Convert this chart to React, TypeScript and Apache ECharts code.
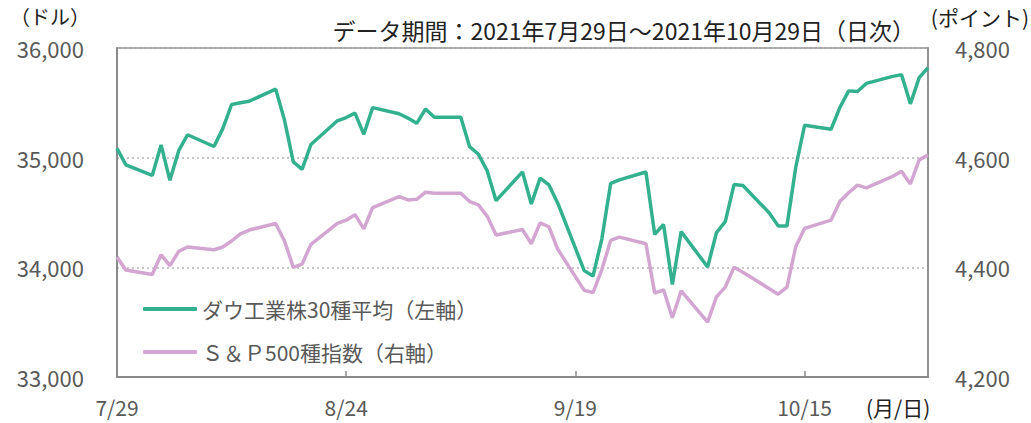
import React, { useEffect, useRef } from "react";
import * as echarts from "echarts";

const startDate = "2021-07-29";
const dates = [
  "2021-07-29", "2021-07-30",
  "2021-08-02", "2021-08-03", "2021-08-04", "2021-08-05", "2021-08-06",
  "2021-08-09", "2021-08-10", "2021-08-11", "2021-08-12", "2021-08-13",
  "2021-08-16", "2021-08-17", "2021-08-18", "2021-08-19", "2021-08-20",
  "2021-08-23", "2021-08-24", "2021-08-25", "2021-08-26", "2021-08-27",
  "2021-08-30", "2021-08-31", "2021-09-01", "2021-09-02", "2021-09-03",
  "2021-09-06", "2021-09-07", "2021-09-08", "2021-09-09", "2021-09-10",
  "2021-09-13", "2021-09-14", "2021-09-15", "2021-09-16", "2021-09-17",
  "2021-09-20", "2021-09-21", "2021-09-22", "2021-09-23", "2021-09-24",
  "2021-09-27", "2021-09-28", "2021-09-29", "2021-09-30", "2021-10-01",
  "2021-10-04", "2021-10-05", "2021-10-06", "2021-10-07", "2021-10-08",
  "2021-10-11", "2021-10-12", "2021-10-13", "2021-10-14", "2021-10-15",
  "2021-10-18", "2021-10-19", "2021-10-20", "2021-10-21", "2021-10-22",
  "2021-10-25", "2021-10-26", "2021-10-27", "2021-10-28", "2021-10-29",
];

const dow = [
  35085, 34935,
  34838, 35116, 34793, 35064, 35209,
  35102, 35265, 35485, 35500, 35515,
  35625, 35343, 34961, 34894, 35120,
  35336, 35366, 35406, 35213, 35456,
  35400, 35361, 35313, 35444, 35369,
  35369, 35100, 35031, 34879, 34608,
  34870, 34578, 34814, 34751, 34585,
  33970, 33920, 34258, 34765, 34798,
  34869, 34300, 34391, 33844, 34326,
  34003, 34315, 34417, 34755, 34746,
  34496, 34378, 34378, 34913, 35295,
  35259, 35457, 35609, 35603, 35677,
  35741, 35757, 35491, 35730, 35820,
];

const sp500 = [
  4419, 4395,
  4387, 4423, 4403, 4429, 4437,
  4432, 4437, 4448, 4461, 4468,
  4480, 4448, 4400, 4406, 4442,
  4480, 4486, 4496, 4470, 4509,
  4529, 4523, 4524, 4537, 4535,
  4535, 4520, 4514, 4493, 4459,
  4469, 4443, 4481, 4474, 4433,
  4358, 4354, 4396, 4449, 4455,
  4443, 4353, 4359, 4308, 4357,
  4300, 4346, 4364, 4400, 4391,
  4361, 4351, 4364, 4438, 4471,
  4486, 4520, 4536, 4550, 4545,
  4566, 4575, 4552, 4596, 4605,
];

const seriesNames = ["ダウ工業株30種平均（左軸）", "Ｓ＆Ｐ500種指数（右軸）"];
const titleText = "データ期間：2021年7月29日～2021年10月29日（日次）";
const leftUnit = "（ドル）";
const rightUnit = "(ポイント)";
const xUnit = "(月/日)";

const DAY = 86400000;
const dayOffset = (d: string) => Math.round((Date.parse(d) - Date.parse(startDate)) / DAY);
const offsetLabel = (v: number) => {
  const d = new Date(Date.parse(startDate) + v * DAY);
  return `${d.getUTCMonth() + 1}/${d.getUTCDate()}`;
};

const FONT = "'Noto Sans CJK JP', 'Noto Sans', sans-serif";
const GREEN = "#33b18f";
const PINK = "#d2a6d1";
const AXIS = "#8a8a8a";
const LABEL = "#595959";

export default function App() {
  const ref = useRef<HTMLDivElement>(null);
  useEffect(() => {
    document.body.style.margin = "0";
    if (!ref.current) return;
    const chart = echarts.init(ref.current, null, { renderer: "svg" });
    const dowData = dates.map((d, i) => [dayOffset(d), dow[i]]);
    const spData = dates.map((d, i) => [dayOffset(d), sp500[i]]);
    chart.setOption({
      animation: false,
      textStyle: { fontFamily: FONT },
      grid: {
        left: 117, right: 103, top: 48, bottom: 46,
        show: true, borderColor: AXIS, borderWidth: 1.5, backgroundColor: "transparent",
      },
      legend: {
        orient: "vertical",
        left: 138,
        top: 292,
        icon: "roundRect",
        itemWidth: 54,
        itemHeight: 4,
        itemGap: 19,
        data: seriesNames,
        textStyle: { fontFamily: FONT, fontSize: 21, color: LABEL, lineHeight: 24 },
      },
      xAxis: {
        type: "value",
        min: 0,
        max: dayOffset(dates[dates.length - 1]),
        interval: 26,
        axisLine: { show: true, lineStyle: { color: AXIS, width: 2 } },
        axisTick: { show: true, inside: true, length: 6, lineStyle: { color: AXIS, width: 1.5 } },
        splitLine: { show: false },
        axisLabel: {
          formatter: offsetLabel,
          fontSize: 21, color: LABEL, margin: 19, fontFamily: FONT, showMaxLabel: false,
        },
      },
      yAxis: [
        {
          type: "value",
          min: 33000, max: 36000, interval: 1000,
          axisLine: { show: true, lineStyle: { color: AXIS, width: 2 } },
          axisTick: { show: false },
          splitLine: {
            show: true,
            lineStyle: { color: "#b5b5b5", type: [2, 3], width: 1.5 },
          },
          axisLabel: {
            formatter: (v: number) => v.toLocaleString("en-US"),
            fontSize: 22, color: LABEL, margin: 33, fontFamily: FONT,
          },
        },
        {
          type: "value",
          min: 4200, max: 4800, interval: 200,
          position: "right",
          axisLine: { show: true, lineStyle: { color: AXIS, width: 1.5 } },
          axisTick: { show: false },
          splitLine: { show: false },
          axisLabel: {
            formatter: (v: number) => v.toLocaleString("en-US"),
            fontSize: 22, color: LABEL, margin: 27, fontFamily: FONT,
          },
        },
      ],
      series: [
        {
          name: seriesNames[1],
          type: "line",
          yAxisIndex: 1,
          data: spData,
          showSymbol: false,
          symbol: "none",
          itemStyle: { color: PINK },
          lineStyle: { color: PINK, width: 3.5 },
          z: 2,
        },
        {
          name: seriesNames[0],
          type: "line",
          yAxisIndex: 0,
          data: dowData,
          showSymbol: false,
          symbol: "none",
          itemStyle: { color: GREEN },
          lineStyle: { color: GREEN, width: 3.5 },
          z: 3,
        },
      ],
      graphic: [
        {
          type: "text", left: 10, top: 6,
          style: { text: leftUnit, fontSize: 20, fill: "#222", fontFamily: FONT },
        },
        {
          type: "text", x: 915, y: 30,
          style: {
            text: titleText, fontSize: 23, fill: "#222", fontFamily: FONT,
            textAlign: "right", textVerticalAlign: "middle",
          },
        },
        {
          type: "text", x: 1029, y: 17,
          style: {
            text: rightUnit, fontSize: 21, fill: "#222", fontFamily: FONT,
            textAlign: "right", textVerticalAlign: "middle",
          },
        },
        {
          type: "text", x: 866, y: 407,
          style: {
            text: xUnit, fontSize: 21, fill: "#222", fontFamily: FONT,
            textAlign: "left", textVerticalAlign: "middle",
          },
        },
      ],
    });
    return () => chart.dispose();
  }, []);
  return <div ref={ref} style={{ width: 1031, height: 423 }} />;
}
